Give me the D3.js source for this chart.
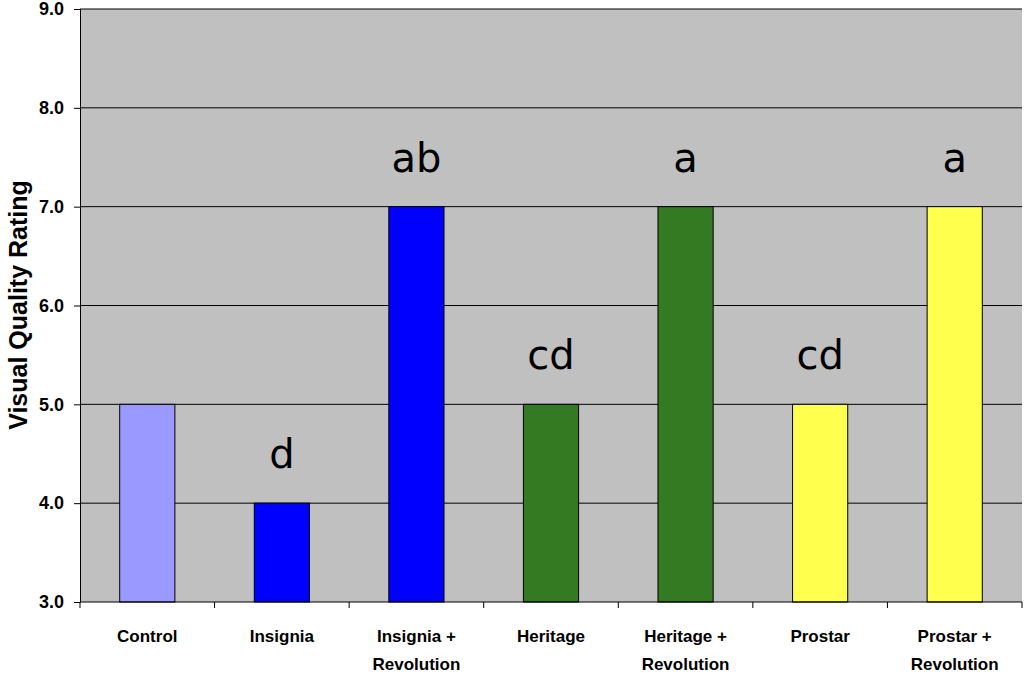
<!DOCTYPE html>
<html><head><meta charset="utf-8">
<script src="https://cdn.jsdelivr.net/npm/d3@7"></script>
<style>body{margin:0;background:#fff}</style>
</head><body><svg id="chart" width="1024" height="673"></svg>
<script>
// chart data
const categories = [["Control"], ["Insignia"], ["Insignia +", "Revolution"], ["Heritage"],
    ["Heritage +", "Revolution"], ["Prostar"], ["Prostar +", "Revolution"]];
const ratings = [5, 4, 7, 5, 7, 5, 7];
const letters = ["", "d", "ab", "cd", "a", "cd", "a"];
const barColors = ["#9999ff", "#0000ff", "#0000ff", "#337a22", "#337a22", "#ffff4d", "#ffff4d"];
const yTicks = [3, 4, 5, 6, 7, 8, 9];

const svg = d3.select("#chart");
const plotLeft = 80, plotRight = 1022, plotTop = 9, plotBottom = 602;

const x = d3.scaleBand().domain(d3.range(categories.length)).range([plotLeft, plotRight]).paddingInner(0.59).paddingOuter(0.295);
const y = d3.scaleLinear().domain([3, 9]).range([plotBottom, plotTop]);

svg.append("rect").attr("x", plotLeft).attr("y", plotTop).attr("width", plotRight - plotLeft).attr("height", plotBottom - plotTop).attr("fill", "#c0c0c0");

// gridlines
svg.selectAll(".grid").data(yTicks.slice(1)).enter().append("line")
    .attr("x1", plotLeft).attr("x2", plotRight).attr("y1", d => y(d)).attr("y2", d => y(d))
    .attr("stroke", "#000").attr("stroke-width", 1);

// bars
svg.selectAll(".bar").data(ratings).enter().append("rect")
    .attr("x", (d, i) => x(i)).attr("width", x.bandwidth())
    .attr("y", d => y(d)).attr("height", d => plotBottom - y(d))
    .attr("fill", (d, i) => barColors[i]).attr("stroke", "#000").attr("stroke-width", 1);

// significance letters
svg.selectAll(".letter").data(ratings).enter().append("text")
    .attr("x", (d, i) => x(i) + x.bandwidth() / 2).attr("y", d => y(d) - 35)
    .attr("text-anchor", "middle").attr("font-family", "DejaVu Sans").attr("font-size", 40)
    .text((d, i) => letters[i]);

// axes
const yAxis = svg.append("g").attr("transform", `translate(${plotLeft},0)`)
    .call(d3.axisLeft(y).tickValues(yTicks).tickSize(6).tickPadding(10));
yAxis.selectAll("text").attr("font-family", "Liberation Sans").attr("font-weight", "bold").attr("font-size", 18).attr("fill", "#000");
yAxis.selectAll("line,path").attr("stroke", "#000");

const xg = svg.append("g");
xg.append("line").attr("x1", plotLeft).attr("x2", plotRight).attr("y1", plotBottom).attr("y2", plotBottom).attr("stroke", "#000");
xg.selectAll(".tick").data(d3.range(categories.length + 1)).enter().append("line")
    .attr("x1", i => plotLeft + i * x.step()).attr("x2", i => plotLeft + i * x.step())
    .attr("y1", plotBottom).attr("y2", plotBottom + 6).attr("stroke", "#000");
categories.forEach((lines, i) => {
    const t = xg.append("text").attr("x", x(i) + x.bandwidth() / 2).attr("y", 642)
        .attr("text-anchor", "middle").attr("font-family", "Liberation Sans").attr("font-weight", "bold").attr("font-size", 17);
    lines.forEach((s, k) => t.append("tspan").attr("x", x(i) + x.bandwidth() / 2).attr("dy", k ? 28 : 0).text(s));
});

svg.append("text").attr("transform", "translate(27,305) rotate(-90)").attr("text-anchor", "middle")
    .attr("font-family", "Liberation Sans").attr("font-weight", "bold").attr("font-size", 25).text("Visual Quality Rating");
</script></body></html>
